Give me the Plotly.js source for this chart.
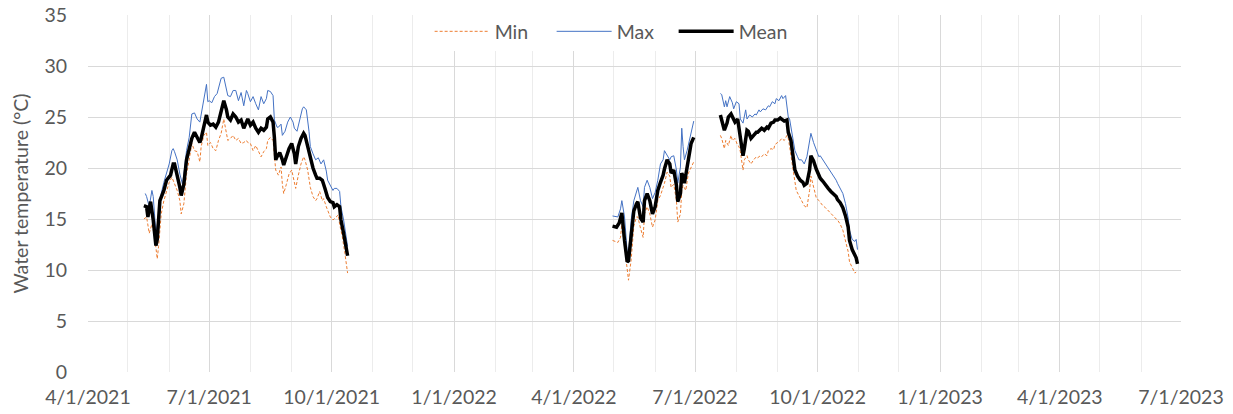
<!DOCTYPE html>
<html>
<head>
<meta charset="utf-8">
<script src="https://cdn.plot.ly/plotly-3.0.1.min.js"></script>
<style>
  html, body { margin: 0; padding: 0; background: #fff; }
  #chart { width: 1233px; height: 414px; }
</style>
</head>
<body>
<div id="chart"></div>
<script>
// Daily water temperature (°C), two monitoring seasons; null breaks the line between gaps.
const meanDates = [
  '2021-05-13','2021-05-15','2021-05-16','2021-05-18','2021-05-20','2021-05-22','2021-05-23','2021-05-25','2021-05-28','2021-05-30',
  '2021-06-02','2021-06-04','2021-06-05','2021-06-07','2021-06-09','2021-06-10','2021-06-12','2021-06-14','2021-06-16','2021-06-18',
  '2021-06-20','2021-06-22','2021-06-24','2021-06-25','2021-06-27','2021-06-29','2021-06-30','2021-07-02','2021-07-04','2021-07-06',
  '2021-07-08','2021-07-10','2021-07-12','2021-07-14','2021-07-15','2021-07-17','2021-07-19','2021-07-21','2021-07-23','2021-07-25',
  '2021-07-27','2021-07-29','2021-07-30','2021-08-01','2021-08-03','2021-08-05','2021-08-07','2021-08-09','2021-08-11','2021-08-13',
  '2021-08-14','2021-08-16','2021-08-18','2021-08-19','2021-08-20','2021-08-21','2021-08-23','2021-08-25','2021-08-26','2021-08-28',
  '2021-08-30','2021-09-01','2021-09-03','2021-09-04','2021-09-06','2021-09-08','2021-09-10','2021-09-11','2021-09-13','2021-09-15',
  '2021-09-17','2021-09-19','2021-09-20','2021-09-22','2021-09-24','2021-09-26','2021-09-28','2021-09-30','2021-10-02','2021-10-03',
  '2021-10-05','2021-10-07','2021-10-08','2021-10-10','2021-10-12','2021-10-13',
  '2022-01-15',
  '2022-04-30','2022-05-03','2022-05-05','2022-05-07','2022-05-09','2022-05-11','2022-05-12','2022-05-14','2022-05-16','2022-05-18',
  '2022-05-19','2022-05-21','2022-05-23','2022-05-24','2022-05-26','2022-05-28','2022-05-30','2022-06-01','2022-06-03','2022-06-05',
  '2022-06-07','2022-06-08','2022-06-10','2022-06-12','2022-06-13','2022-06-15','2022-06-17','2022-06-18','2022-06-20','2022-06-21',
  '2022-06-22','2022-06-23','2022-06-25','2022-06-27','2022-06-28','2022-06-30',
  '2022-07-10',
  '2022-07-20','2022-07-21','2022-07-22','2022-07-23','2022-07-25','2022-07-26','2022-07-28','2022-07-30','2022-07-31','2022-08-02',
  '2022-08-03','2022-08-04','2022-08-06','2022-08-07','2022-08-09','2022-08-10','2022-08-12','2022-08-14','2022-08-16','2022-08-17',
  '2022-08-19','2022-08-20','2022-08-22','2022-08-24','2022-08-25','2022-08-27','2022-08-29','2022-08-30','2022-09-01','2022-09-03',
  '2022-09-04','2022-09-06','2022-09-08','2022-09-09','2022-09-11','2022-09-12','2022-09-14','2022-09-16','2022-09-18','2022-09-20',
  '2022-09-21','2022-09-23','2022-09-25','2022-09-26','2022-09-28','2022-09-30','2022-10-02','2022-10-03','2022-10-05','2022-10-07',
  '2022-10-09','2022-10-11','2022-10-13','2022-10-15','2022-10-16','2022-10-18','2022-10-20','2022-10-22','2022-10-24','2022-10-25',
  '2022-10-27','2022-10-28','2022-10-30','2022-10-31'
];
const meanValues = [
  16.3,16.2,15.2,16.7,14.9,12.4,13.0,16.8,17.8,18.8,
  19.3,20.4,20.4,19.4,18.1,17.3,18.4,20.8,21.9,22.9,
  23.5,23.0,22.5,22.9,24.0,25.2,24.5,24.2,24.3,24.0,
  24.5,25.7,26.6,25.7,25.0,24.7,25.3,25.0,24.5,24.7,
  23.9,24.5,24.8,24.2,24.5,23.9,23.5,23.9,23.7,24.0,
  24.8,25.0,24.5,23.0,20.8,21.1,21.5,20.8,20.3,21.1,
  21.9,22.4,21.4,20.4,22.1,22.9,23.4,23.2,22.1,20.8,
  20.0,19.3,19.0,19.0,18.8,18.0,17.1,16.7,16.6,16.2,
  16.4,16.2,14.9,13.6,12.4,11.4,
  null,
  14.3,14.2,14.6,15.6,12.9,10.8,10.9,13.2,15.8,16.5,
  16.7,15.1,14.7,16.8,17.5,16.8,15.5,16.2,17.8,18.6,
  19.3,19.9,20.8,20.4,19.5,19.8,18.3,16.7,17.5,19.5,
  19.2,18.5,20.2,21.4,22.4,23.0,
  null,
  25.2,24.6,24.2,23.7,24.4,25.0,25.3,24.7,24.5,24.8,
  24.0,23.0,21.2,21.9,23.7,23.6,22.9,23.2,23.5,23.5,
  23.7,23.9,23.7,24.0,23.9,24.4,24.5,24.7,24.7,24.9,
  24.8,24.6,24.7,23.5,22.7,21.6,19.8,19.2,18.8,18.6,
  18.3,18.5,19.8,21.2,20.7,19.9,19.2,19.0,18.7,18.3,
  18.0,17.7,17.4,17.2,16.9,16.6,16.1,15.3,14.2,12.9,
  12.0,11.7,11.2,10.6
];

const maxDates = [
  '2021-05-14','2021-05-15','2021-05-17','2021-05-19','2021-05-20','2021-05-22','2021-05-24','2021-05-26','2021-05-28','2021-05-30',
  '2021-06-01','2021-06-03','2021-06-04','2021-06-05','2021-06-07','2021-06-09','2021-06-11','2021-06-12','2021-06-14','2021-06-16',
  '2021-06-18','2021-06-20','2021-06-22','2021-06-24','2021-06-25','2021-06-27','2021-06-29','2021-06-30','2021-07-01','2021-07-03',
  '2021-07-05','2021-07-07','2021-07-09','2021-07-10','2021-07-12','2021-07-14','2021-07-15','2021-07-17','2021-07-19','2021-07-21',
  '2021-07-23','2021-07-25','2021-07-27','2021-07-29','2021-07-30','2021-08-01','2021-08-03','2021-08-05','2021-08-07','2021-08-09',
  '2021-08-11','2021-08-13','2021-08-14','2021-08-16','2021-08-18','2021-08-19','2021-08-21','2021-08-22','2021-08-24','2021-08-25',
  '2021-08-27','2021-08-29','2021-08-31','2021-09-02','2021-09-03','2021-09-05','2021-09-07','2021-09-09','2021-09-10','2021-09-12',
  '2021-09-14','2021-09-15','2021-09-17','2021-09-19','2021-09-21','2021-09-23','2021-09-25','2021-09-27','2021-09-28','2021-09-30',
  '2021-10-02','2021-10-03','2021-10-05','2021-10-07','2021-10-08','2021-10-10','2021-10-12','2021-10-13',
  '2022-01-15',
  '2022-04-30','2022-05-04','2022-05-06','2022-05-07','2022-05-09','2022-05-11','2022-05-12','2022-05-14','2022-05-16','2022-05-18',
  '2022-05-19','2022-05-21','2022-05-23','2022-05-24','2022-05-26','2022-05-28','2022-05-30','2022-06-01','2022-06-03','2022-06-05',
  '2022-06-07','2022-06-08','2022-06-10','2022-06-12','2022-06-13','2022-06-15','2022-06-17','2022-06-18','2022-06-20','2022-06-21',
  '2022-06-22','2022-06-23','2022-06-25','2022-06-27','2022-06-28','2022-06-30',
  '2022-07-10',
  '2022-07-20','2022-07-21','2022-07-23','2022-07-24','2022-07-25','2022-07-27','2022-07-29','2022-07-30','2022-08-01','2022-08-03',
  '2022-08-04','2022-08-06','2022-08-08','2022-08-09','2022-08-11','2022-08-13','2022-08-15','2022-08-16','2022-08-18','2022-08-19',
  '2022-08-21','2022-08-23','2022-08-25','2022-08-26','2022-08-28','2022-08-30','2022-08-31','2022-09-02','2022-09-04','2022-09-05',
  '2022-09-07','2022-09-09','2022-09-10','2022-09-12','2022-09-14','2022-09-16','2022-09-17','2022-09-19','2022-09-21','2022-09-23',
  '2022-09-25','2022-09-26','2022-09-28','2022-09-30','2022-10-02','2022-10-03','2022-10-05','2022-10-07','2022-10-09','2022-10-11',
  '2022-10-13','2022-10-15','2022-10-16','2022-10-18','2022-10-20','2022-10-22','2022-10-24','2022-10-25','2022-10-27','2022-10-29',
  '2022-10-30','2022-10-31'
];
const maxValues = [
  17.5,17.2,16.2,17.8,17.2,13.6,15.2,17.5,18.6,19.6,
  20.4,21.7,21.9,21.6,20.8,19.4,18.4,19.4,21.7,23.0,
  25.3,25.4,24.8,24.5,25.3,26.6,28.2,26.5,26.6,26.4,
  27.0,27.3,28.3,28.8,28.9,27.6,27.1,27.0,27.6,27.6,
  26.6,27.4,26.1,27.6,27.3,26.5,27.0,26.3,25.7,27.0,
  26.3,26.8,27.6,27.5,27.1,24.7,24.0,24.0,24.3,23.2,
  23.6,24.5,25.0,24.5,23.9,23.6,24.7,25.8,26.0,25.7,
  23.6,22.1,21.4,20.8,21.0,20.4,20.8,19.7,18.8,18.3,
  17.8,18.0,18.0,17.7,16.2,14.9,13.3,12.3,
  null,
  15.3,15.2,16.0,16.8,15.2,11.8,11.6,14.9,16.8,17.8,
  18.1,16.8,16.2,18.1,18.8,18.1,17.0,17.6,18.8,20.4,
  20.8,21.7,21.2,20.8,21.1,21.2,19.8,18.5,20.1,23.9,
  22.1,20.8,21.7,22.9,23.7,24.6,
  null,
  27.3,27.2,26.0,26.6,26.0,27.0,26.4,25.8,26.5,26.3,
  24.8,24.4,25.7,24.8,25.2,25.0,25.3,25.2,25.7,25.5,
  25.8,25.7,26.1,26.0,26.5,26.3,26.8,26.6,27.1,26.8,
  27.1,25.0,24.8,23.0,21.7,21.1,20.8,20.8,20.4,21.1,
  22.4,23.4,22.5,21.7,21.1,21.2,20.8,20.4,20.1,19.6,
  19.3,18.8,18.5,18.0,17.5,16.5,15.1,13.9,13.0,12.8,
  13.0,12.0
];

const minDates = [
  '2021-05-13','2021-05-15','2021-05-17','2021-05-19','2021-05-21','2021-05-23','2021-05-24','2021-05-26','2021-05-28','2021-05-30',
  '2021-06-01','2021-06-03','2021-06-05','2021-06-07','2021-06-09','2021-06-10','2021-06-12','2021-06-14','2021-06-16','2021-06-18',
  '2021-06-20','2021-06-22','2021-06-24','2021-06-25','2021-06-27','2021-06-29','2021-06-30','2021-07-02','2021-07-04','2021-07-06',
  '2021-07-08','2021-07-10','2021-07-12','2021-07-14','2021-07-15','2021-07-17','2021-07-19','2021-07-21','2021-07-23','2021-07-25',
  '2021-07-27','2021-07-29','2021-07-30','2021-08-01','2021-08-03','2021-08-05','2021-08-07','2021-08-09','2021-08-11','2021-08-13',
  '2021-08-14','2021-08-16','2021-08-18','2021-08-19','2021-08-20','2021-08-22','2021-08-24','2021-08-25','2021-08-26','2021-08-28',
  '2021-08-30','2021-09-01','2021-09-03','2021-09-04','2021-09-06','2021-09-08','2021-09-10','2021-09-11','2021-09-13','2021-09-15',
  '2021-09-17','2021-09-19','2021-09-20','2021-09-22','2021-09-24','2021-09-25','2021-09-27','2021-09-29','2021-09-30','2021-10-02',
  '2021-10-04','2021-10-06','2021-10-07','2021-10-09','2021-10-11','2021-10-13',
  '2022-01-15',
  '2022-04-30','2022-05-04','2022-05-06','2022-05-07','2022-05-09','2022-05-11','2022-05-12','2022-05-14','2022-05-16','2022-05-18',
  '2022-05-19','2022-05-21','2022-05-23','2022-05-24','2022-05-26','2022-05-28','2022-05-30','2022-06-01','2022-06-03','2022-06-05',
  '2022-06-07','2022-06-08','2022-06-10','2022-06-12','2022-06-13','2022-06-15','2022-06-17','2022-06-18','2022-06-20','2022-06-21',
  '2022-06-22','2022-06-24','2022-06-26','2022-06-28','2022-06-30',
  '2022-07-10',
  '2022-07-20','2022-07-21','2022-07-23','2022-07-24','2022-07-26','2022-07-28','2022-07-29','2022-07-31','2022-08-02','2022-08-03',
  '2022-08-04','2022-08-06','2022-08-07','2022-08-09','2022-08-10','2022-08-12','2022-08-14','2022-08-16','2022-08-17','2022-08-19',
  '2022-08-20','2022-08-22','2022-08-24','2022-08-25','2022-08-27','2022-08-29','2022-08-30','2022-09-01','2022-09-03','2022-09-04',
  '2022-09-06','2022-09-08','2022-09-09','2022-09-10','2022-09-12','2022-09-14','2022-09-15','2022-09-17','2022-09-19','2022-09-21',
  '2022-09-23','2022-09-25','2022-09-26','2022-09-28','2022-09-30','2022-10-02','2022-10-03','2022-10-05','2022-10-07','2022-10-09',
  '2022-10-11','2022-10-13','2022-10-15','2022-10-16','2022-10-18','2022-10-20','2022-10-22','2022-10-24','2022-10-25','2022-10-27',
  '2022-10-29','2022-10-30'
];
const minValues = [
  15.0,15.2,13.6,14.5,13.3,11.1,12.3,15.5,16.8,17.8,
  18.6,19.1,18.4,17.8,16.8,15.5,16.5,19.4,20.8,22.4,
  21.7,21.6,20.6,22.1,23.2,23.5,22.2,22.5,21.9,21.7,
  22.7,23.4,24.8,23.5,22.7,22.9,23.2,22.7,22.9,22.4,
  22.5,22.7,22.5,22.4,21.7,22.2,21.7,21.1,21.6,21.9,
  22.7,23.0,22.7,21.4,19.8,19.3,20.1,18.4,17.5,18.4,
  19.4,19.8,18.4,18.0,19.3,20.4,21.1,20.8,19.8,18.1,
  17.2,16.8,17.0,17.7,16.8,17.0,16.2,15.4,15.2,14.9,
  15.2,15.4,14.5,13.3,11.6,9.7,
  null,
  12.9,12.7,13.2,14.5,12.3,10.0,9.0,11.0,14.3,15.2,
  15.2,14.1,13.2,15.5,16.2,15.5,14.2,14.9,16.8,17.3,
  18.0,18.5,19.6,19.2,18.1,18.4,16.8,14.7,15.5,17.8,
  18.3,17.8,19.5,20.1,20.6,
  null,
  23.2,22.9,21.9,22.7,22.2,23.2,22.7,22.9,22.2,22.1,
  21.6,19.8,20.8,21.2,20.8,20.4,20.8,21.1,21.0,21.2,
  21.1,21.4,21.2,21.7,21.9,21.8,22.3,22.5,22.7,22.9,
  22.7,23.2,22.9,22.1,20.4,18.9,17.8,17.3,16.8,16.3,
  16.1,17.8,19.2,18.2,17.1,16.8,16.6,16.3,16.1,15.8,
  15.5,15.2,15.0,14.9,14.5,13.9,12.9,11.8,10.8,10.2,
  9.7,9.8
];

// Axis ticks: quarterly labels
const tickDates = ['2021-04-01','2021-07-01','2021-10-01','2022-01-01','2022-04-01','2022-07-01','2022-10-01','2023-01-01','2023-04-01','2023-07-01'];
const tickLabels = ['4/1/2021','7/1/2021','10/1/2021','1/1/2022','4/1/2022','7/1/2022','10/1/2022','1/1/2023','4/1/2023','7/1/2023'];

const FONT = 'Lato, "Open Sans", sans-serif';
const TEXT = '#595959';
const FS = 19.5;

const traces = [
  { name: 'Min', x: minDates, y: minValues, type: 'scatter', mode: 'lines', connectgaps: false,
    line: { color: '#ED7D31', width: 1, dash: '3px,2px' } },
  { name: 'Max', x: maxDates, y: maxValues, type: 'scatter', mode: 'lines', connectgaps: false,
    line: { color: '#4472C4', width: 1 } },
  { name: 'Mean', x: meanDates, y: meanValues, type: 'scatter', mode: 'lines', connectgaps: false,
    line: { color: '#000000', width: 3.5 } }
];

const layout = {
  width: 1233, height: 414,
  margin: { l: 88, r: 52, t: 15, b: 42, autoexpand: false },
  paper_bgcolor: '#ffffff', plot_bgcolor: '#ffffff',
  font: { family: FONT, size: FS, color: TEXT },
  showlegend: true,
  legend: {
    orientation: 'h', x: 0.48, xanchor: 'center', y: 1.008, yanchor: 'top',
    bgcolor: 'rgba(255,255,255,1)', font: { family: FONT, size: FS, color: TEXT },
    itemwidth: 55, entrywidth: 52, entrywidthmode: 'pixels', tracegroupgap: 0
  },
  xaxis: {
    type: 'date',
    range: [tickDates[0], tickDates[tickDates.length - 1]],
    tickmode: 'array', tickvals: tickDates, ticktext: tickLabels,
    showgrid: true, gridcolor: '#d9d9d9', gridwidth: 1,
    minor: { dtick: 'M1', tick0: '2021-04-01', showgrid: true, gridcolor: '#ececec', gridwidth: 1 },
    showline: false, zeroline: false, ticks: '',
    tickfont: { family: FONT, size: FS, color: TEXT },
    ticklabelstandoff: 11
  },
  yaxis: {
    range: [0, 35], dtick: 5, tick0: 0,
    showgrid: true, gridcolor: '#d9d9d9', gridwidth: 1,
    zeroline: false, showline: false, ticks: '',
    tickfont: { family: FONT, size: FS, color: TEXT },
    ticklabelstandoff: 20,
    title: { text: 'Water temperature (°C)', font: { family: FONT, size: FS, color: TEXT }, standoff: 10 }
  }
};

Plotly.newPlot('chart', traces, layout, { displayModeBar: false, staticPlot: true });
</script>
</body>
</html>
